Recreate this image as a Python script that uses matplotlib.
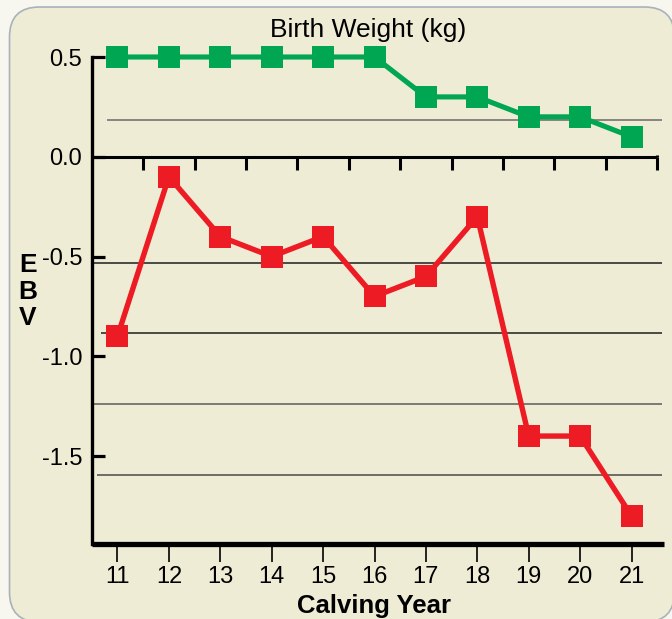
import numpy as np
import matplotlib
matplotlib.use("Agg")
import matplotlib.pyplot as plt
from matplotlib.patches import FancyBboxPatch

plt.rcParams['font.family'] = ['Liberation Sans', 'DejaVu Sans']

# datos
years = [11, 12, 13, 14, 15, 16, 17, 18, 19, 20, 21]
green_ebv = [0.5, 0.5, 0.5, 0.5, 0.5, 0.5, 0.3, 0.3, 0.2, 0.2, 0.1]
red_ebv = [-0.9, -0.1, -0.4, -0.5, -0.4, -0.7, -0.6, -0.3, -1.4, -1.4, -1.8]
y_ticks = [0.5, 0.0, -0.5, -1.0, -1.5]
y_labels = ['0.5', '0.0', '-0.5', '-1.0', '-1.5']
grid_levels = [0.184, -0.531, -0.883, -1.239, -1.595]
grid_starts = [10.80, 10.50, 10.68, 10.50, 10.60]
grid_colors = ['#6a6a66', '#1e1e1e', '#1e1e1e', '#5c5c58', '#4a4a46']

GREEN = '#00a651'
RED = '#ed1c24'
BEIGE = '#efecd6'

fig = plt.figure(figsize=(6.72, 6.19), dpi=100)
fig.patch.set_facecolor('#f7f7f0')

# recuadro redondeado de fondo
caja = FancyBboxPatch((9.5, -3), 665, 615, boxstyle="round,pad=0,rounding_size=30",
                      transform=None, facecolor=BEIGE, edgecolor='#a9b2ba', lw=1.2,
                      zorder=-10)
fig.patches.append(caja)

ax = fig.add_axes([92 / 672, 1 - 544 / 619, 572 / 672, 487 / 619])
ax.set_facecolor('none')
x0, x1 = 10.504, 21.632
ax.set_xlim(x0, x1)
ax.set_ylim(-1.941, 0.5)

# lineas de fondo
for lvl, xs, c in zip(grid_levels, grid_starts, grid_colors):
    ax.hlines(lvl, xs, 21.6, color=c, lw=1.1, zorder=1)

# eje en cero con marcas entre años
ax.hlines(0, x0, 21.5, color='black', lw=2.2, zorder=2)
ax.vlines(np.array(years) + 0.5, -0.066, 0, color='black', lw=2.2, zorder=2)
ax.vlines(21.5, 0, 0.01, color='black', lw=2.2, zorder=2)

ax.plot(years, green_ebv, color=GREEN, lw=3.7, marker='s', ms=16,
        mec=GREEN, mew=0, clip_on=False, zorder=4)
ax.plot(years, red_ebv, color=RED, lw=3.9, marker='s', ms=16,
        mec=RED, mew=0, clip_on=False, zorder=4)

for s in ['top', 'right']:
    ax.spines[s].set_visible(False)
ax.spines['left'].set_linewidth(2.4)
ax.spines['bottom'].set_linewidth(3.8)
ax.spines['bottom'].set_capstyle('butt')

ax.set_yticks(y_ticks)
ax.set_yticklabels(y_labels)
ax.tick_params(axis='y', direction='in', length=9, width=2.3, pad=7, labelsize=17)
ax.set_xticks(years)
ax.set_xticklabels([str(y) for y in years])
ax.tick_params(axis='x', direction='out', length=13, width=1.2, pad=3, labelsize=17)

fig.text(368.5 / 672, 1 - 37 / 619, 'Birth Weight (kg)', ha='center', va='baseline', fontsize=19)
fig.text(374 / 672, 1 - 613 / 619, 'Calving Year', ha='center', va='baseline',
         fontsize=18.5, fontweight='bold')
for letra, yp in zip('EBV', [265, 292, 318]):
    fig.text(28 / 672, 1 - yp / 619, letra, ha='center', va='center',
             fontsize=19, fontweight='bold')

fig.savefig('out.png', dpi=100, facecolor=fig.get_facecolor())
